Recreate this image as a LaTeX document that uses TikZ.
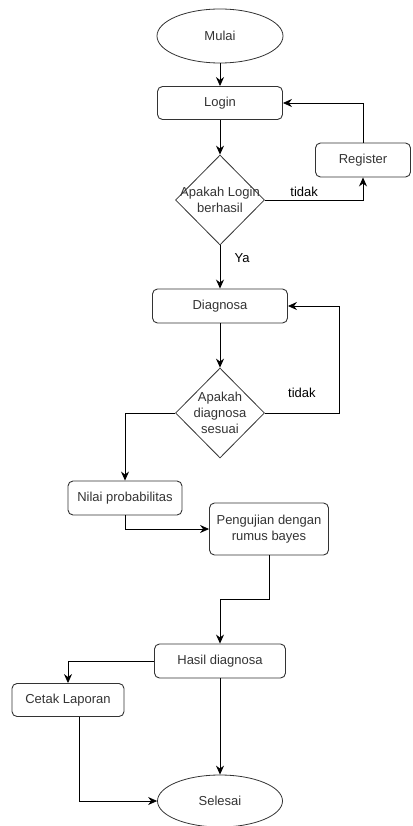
\documentclass[tikz,border=0pt]{standalone}
\usepackage{fontspec}
\setmainfont{Liberation Sans}
\usetikzlibrary{shapes.geometric,arrows.meta}
\definecolor{garis}{HTML}{333333}

\begin{document}
\begin{tikzpicture}[x=1pt,y=-1pt,
    font=\fontsize{13}{16}\selectfont, text=garis,
    proses/.style={draw=garis, rounded corners=5pt, line width=0.9pt, minimum height=34pt, inner sep=0pt, align=center},
    terminal/.style={draw=garis, ellipse, line width=0.8pt, minimum width=126pt, minimum height=54pt, inner sep=0pt},
    keputusan/.style={draw=garis, diamond, line width=0.8pt, minimum width=89pt, minimum height=90pt, inner sep=0pt},
    >={Stealth[length=9pt,width=8pt,inset=3pt]},
    panah/.style={->, line width=0.8pt, black}]
    \useasboundingbox (0,0) rectangle (412,826);
    \node[terminal] (mulai) at (220,36) {Mulai};
    \node[proses, minimum width=125pt, minimum height=33pt] (login) at (220,103) {Login};
    \node[keputusan, label={[align=center]center:Apakah Login\\berhasil}] (cek1) at (220,200) {};
    \node[proses, minimum width=95pt] (reg) at (363,160) {Register};
    \node[proses, minimum width=135pt] (diag) at (220,306) {Diagnosa};
    \node[keputusan, label={[align=center]center:Apakah\\diagnosa\\sesuai}] (cek2) at (220,413) {};
    \node[proses, minimum width=114pt] (nilai) at (125,498) {Nilai probabilitas};
    \node[proses, minimum width=119pt, minimum height=52pt] (uji) at (269,529) {Pengujian dengan\\rumus bayes};
    \node[proses, minimum width=131pt] (hasil) at (220,661) {Hasil diagnosa};
    \node[proses, minimum width=112pt, minimum height=33pt] (cetak) at (68,700) {Cetak Laporan};
    \node[terminal, minimum width=125pt, minimum height=52pt] (selesai) at (220,801) {Selesai};
    \draw [panah] (mulai) -- (login);
    \draw [panah] (login) -- (cek1);
    \draw [panah] (cek1) -| node[pos=0.2, above] {tidak} (reg);
    \draw [panah] (reg) |- (login);
    \draw [panah] (cek1) -- node[pos=0.3, right=11pt] {Ya} (diag);
    \draw [panah] (diag) -- (cek2);
    \draw [panah] (cek2.east) -- node[above=12pt] {tidak} (339,413) |- (diag.east);
    \draw [panah] (cek2) -| (nilai);
    \draw [panah] (nilai) |- (uji);
    \draw [panah] (uji.south) -- ++(0,44) -| (hasil);
    \draw [panah] (hasil) -| (cetak);
    \draw [panah] (hasil) -- (selesai);
    \draw [panah] ([xshift=11pt]cetak.south) |- (selesai);
  \end{tikzpicture}
\end{document}
